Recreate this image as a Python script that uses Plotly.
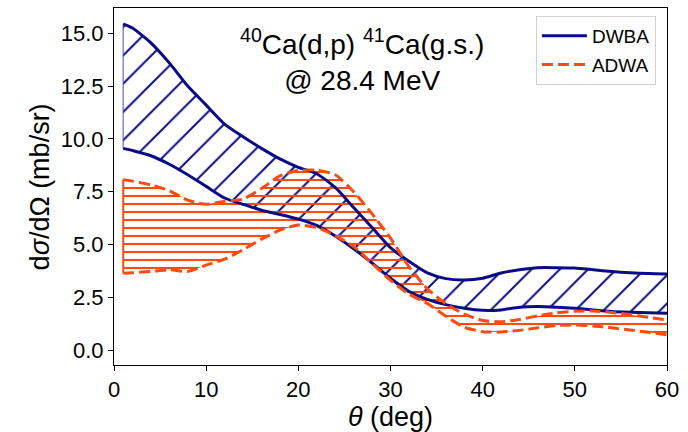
import plotly.graph_objects as go

# Scattering angle grid (deg)
theta = [1, 2, 4, 6, 8, 10, 12, 14, 16, 18, 20, 22, 24, 26, 28, 30,
         32, 34, 36, 38, 40, 42, 44, 46, 48, 50, 52, 54, 56, 58, 60]

# DWBA uncertainty band (mb/sr)
dwba_upper = [15.45, 15.25, 14.55, 13.6, 12.5, 11.6, 10.7, 10.1, 9.55, 9.05,
              8.65, 8.35, 7.7, 6.75, 5.8, 4.85, 4.2, 3.65, 3.38, 3.32,
              3.4, 3.65, 3.8, 3.9, 3.9, 3.88, 3.8, 3.72, 3.66, 3.62, 3.6]
dwba_lower = [9.55, 9.45, 9.2, 8.8, 8.3, 7.75, 7.2, 6.9, 6.62, 6.42,
              6.2, 5.9, 5.4, 4.8, 4.12, 3.4, 2.78, 2.4, 2.15, 1.98,
              1.88, 1.9, 2.03, 2.06, 2.03, 1.98, 1.9, 1.83, 1.79, 1.76, 1.74]

# ADWA uncertainty band (mb/sr)
adwa_upper = [8.07, 8.0, 7.82, 7.55, 7.1, 6.9, 7.05, 7.15, 7.65, 8.25,
              8.5, 8.52, 8.3, 7.5, 6.45, 5.3, 3.95, 2.9, 2.2, 1.7,
              1.4, 1.34, 1.45, 1.62, 1.76, 1.84, 1.85, 1.78, 1.68, 1.55, 1.42]
adwa_lower = [3.63, 3.66, 3.72, 3.8, 3.72, 4.02, 4.3, 4.75, 5.25, 5.68,
              5.92, 5.8, 5.42, 4.9, 4.1, 3.3, 2.65, 2.2, 1.6, 1.08,
              0.87, 0.85, 0.93, 1.05, 1.16, 1.18, 1.14, 1.05, 0.95, 0.84, 0.72]

x_ticks = [0, 10, 20, 30, 40, 50, 60]
y_ticks = [0.0, 2.5, 5.0, 7.5, 10.0, 12.5, 15.0]

NAVY = "#0b0b85"
ORANGE = "#ff4a10"
FONT = "Liberation Sans, Arial, sans-serif"

fig = go.Figure()


def band(upper, lower, color, shape, size, solidity):
    # closed polygon: upper edge left->right, lower edge right->left
    xs = theta + theta[::-1]
    ys = upper + lower[::-1]
    return go.Scatter(
        x=xs, y=ys, mode="lines", fill="toself",
        line=dict(width=0, color="rgba(0,0,0,0)"),
        fillcolor="rgba(0,0,0,0)",
        fillpattern=dict(shape=shape, fgcolor=color, bgcolor="rgba(0,0,0,0)",
                         fgopacity=1, size=size, solidity=solidity, fillmode="overlay"),
        hoverinfo="skip", showlegend=False,
    )


fig.add_trace(band(dwba_upper, dwba_lower, NAVY, "/", 20, 0.1))
fig.add_trace(band(adwa_upper, adwa_lower, ORANGE, "-", 8, 0.26))

# thin closing edges at the first angle
fig.add_trace(go.Scatter(x=[theta[0], theta[0]], y=[dwba_lower[0], dwba_upper[0]],
                         mode="lines", line=dict(color="rgba(40,40,170,0.55)", width=1.5),
                         showlegend=False, hoverinfo="skip"))
fig.add_trace(go.Scatter(x=[theta[0], theta[0]], y=[adwa_lower[0], adwa_upper[0]],
                         mode="lines", line=dict(color=ORANGE, width=2),
                         showlegend=False, hoverinfo="skip"))

# DWBA edges
fig.add_trace(go.Scatter(x=theta, y=dwba_upper, mode="lines", name="DWBA",
                         line=dict(color=NAVY, width=3, shape="spline", smoothing=0.6),
                         legendgroup="a"))
fig.add_trace(go.Scatter(x=theta, y=dwba_lower, mode="lines", showlegend=False,
                         line=dict(color=NAVY, width=3, shape="spline", smoothing=0.6)))

# ADWA edges
fig.add_trace(go.Scatter(x=theta, y=adwa_upper, mode="lines", name="ADWA",
                         line=dict(color=ORANGE, width=3, dash="11px,5px",
                                   shape="spline", smoothing=0.6),
                         legendgroup="b"))
fig.add_trace(go.Scatter(x=theta, y=adwa_lower, mode="lines", showlegend=False,
                         line=dict(color=ORANGE, width=3, dash="11px,5px",
                                   shape="spline", smoothing=0.6)))

fig.add_annotation(
    x=0.449, y=0.855, xref="paper", yref="paper", xanchor="center", yanchor="middle",
    text="<sup>40</sup>Ca(d,p) <sup>41</sup>Ca(g.s.)<br>@ 28.4 MeV",
    showarrow=False, font=dict(family=FONT, size=28, color="black"), align="center",
)

# vertical axis title
fig.add_annotation(
    x=-0.134, y=0.5, xref="paper", yref="paper", xanchor="center", yanchor="middle",
    text="d<i>σ</i>/dΩ (mb/sr)", textangle=-90, showarrow=False,
    font=dict(family=FONT, size=27, color="black"),
)

axis_common = dict(
    showline=True, linecolor="black", linewidth=1, mirror=True,
    ticks="outside", ticklen=5, tickwidth=1, tickcolor="black",
    showgrid=False, zeroline=False, automargin=False,
    tickfont=dict(family=FONT, size=22, color="black"),
)

fig.update_layout(
    width=688, height=432,
    margin=dict(l=114, r=21, t=8, b=67),
    paper_bgcolor="white", plot_bgcolor="white",
    font=dict(family=FONT, color="black"),
    xaxis=dict(range=[0, 60], tickvals=x_ticks, ticktext=[str(v) for v in x_ticks],
               title=dict(text="<i>θ</i> (deg)", font=dict(family=FONT, size=27), standoff=14),
               **axis_common),
    yaxis=dict(range=[-0.71, 16.2], tickvals=y_ticks,
               ticktext=[f"{v:.1f}" for v in y_ticks],
               **axis_common),
    legend=dict(x=0.98, y=0.978, xanchor="right", yanchor="top",
                bgcolor="rgba(255,255,255,0.9)", bordercolor="#d0d0d0", borderwidth=1,
                font=dict(family=FONT, size=19, color="black"),
                itemwidth=45, tracegroupgap=1, traceorder="grouped"),
)

fig.write_html("out.html")
